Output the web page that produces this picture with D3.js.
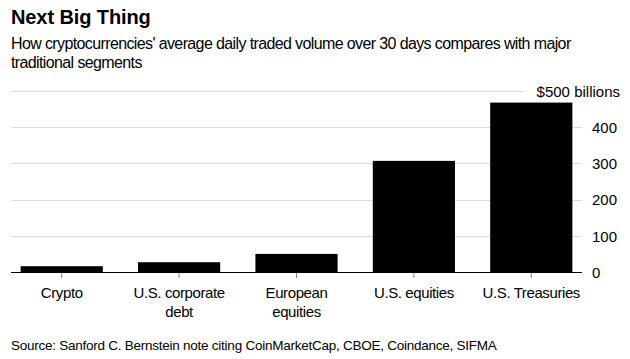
<!DOCTYPE html>
<html>
<head>
<meta charset="utf-8">
<script src="https://cdn.jsdelivr.net/npm/d3@7"></script>
<style>
  html, body { margin: 0; padding: 0; background: #fff; }
  svg text { font-family: "Liberation Sans", Arial, Helvetica, sans-serif; fill: #000; }
</style>
</head>
<body>
<svg id="chart" width="630" height="359"></svg>
<script>
// ---- data ----
const categories = ["Crypto", "U.S. corporate\ndebt", "European\nequities", "U.S. equities", "U.S. Treasuries"];
const volumes = [16, 27, 50, 307, 468];           // $ billions, avg daily traded volume
const yTicks = [0, 100, 200, 300, 400, 500];
const yTopLabel = "$500 billions";
const titleText = "Next Big Thing";
const subtitleLines = [
  "How cryptocurrencies' average daily traded volume over 30 days compares with major",
  "traditional segments"
];
const sourceText = "Source: Sanford C. Bernstein note citing CoinMarketCap, CBOE, Coindance, SIFMA";

// ---- layout ----
const svg = d3.select("#chart");
const plotL = 11, plotR = 582, plotT = 91, plotB = 272;

const x = d3.scaleBand()
  .domain(categories)
  .range([plotL, plotR])
  .paddingInner(0.3)
  .paddingOuter(0.082);

const y = d3.scaleLinear().domain([0, 500]).range([plotB, plotT]);

// title & subtitle
svg.append("text").attr("x", 11).attr("y", 24)
  .style("font-size", "20px").style("font-weight", "bold")
  .style("letter-spacing", "-0.1px")
  .text(titleText);

svg.selectAll("text.sub").data(subtitleLines).join("text")
  .attr("class", "sub")
  .attr("x", 11).attr("y", (d, i) => 49 + i * 19)
  .style("font-size", "16px")
  .style("letter-spacing", "-0.62px")
  .text(d => d);

// gridlines
const grid = svg.append("g");
yTicks.filter(t => t > 0).forEach(t => {
  grid.append("line")
    .attr("x1", plotL).attr("x2", t === 500 ? 523 : plotR)
    .attr("y1", Math.round(y(t)) + 0.5).attr("y2", Math.round(y(t)) + 0.5)
    .attr("stroke", "#dcdcdc").attr("stroke-width", 1);
});

// y tick labels
const yAxis = d3.axisRight(y).tickValues(yTicks)
  .tickSize(0).tickPadding(0)
  .tickFormat(d => d === 500 ? yTopLabel : d3.format("d")(d));
const yg = svg.append("g").attr("transform", `translate(592,0)`).call(yAxis);
yg.select(".domain").remove();
yg.selectAll("text")
  .style("font-size", "15px")
  .attr("dy", "0.35em")
  .attr("fill", "#000");
yg.selectAll(".tick").filter(d => d === 500).select("text")
  .attr("text-anchor", "end").attr("x", 28);

// bars
svg.append("g").selectAll("rect").data(volumes).join("rect")
  .attr("x", (d, i) => x(categories[i]))
  .attr("width", x.bandwidth())
  .attr("y", d => y(d))
  .attr("height", d => y(0) - y(d))
  .attr("fill", "#000");

// x axis
const xAxis = d3.axisBottom(x).tickSize(6).tickPadding(0).tickFormat("");
const xg = svg.append("g").attr("transform", `translate(0,${plotB})`).call(xAxis);
xg.select(".domain").remove();
xg.selectAll(".tick line").attr("stroke", "#888");
svg.append("line").attr("x1", plotL).attr("x2", plotR)
  .attr("y1", plotB + 0.5).attr("y2", plotB + 0.5)
  .attr("stroke", "#000").attr("stroke-width", 1);

// x labels
const xl = svg.append("g").selectAll("text").data(categories).join("text")
  .attr("x", d => x(d) + x.bandwidth() / 2)
  .attr("y", 298)
  .attr("text-anchor", "middle")
  .style("font-size", "15px")
  .style("letter-spacing", "-0.4px");
xl.each(function(d) {
  const t = d3.select(this);
  d.split("\n").forEach((line, i) => {
    t.append("tspan").attr("x", x(d) + x.bandwidth() / 2)
      .attr("dy", i === 0 ? 0 : 19).text(line);
  });
});

// source
svg.append("text").attr("x", 11).attr("y", 350)
  .style("font-size", "13.5px")
  .style("letter-spacing", "-0.25px")
  .text(sourceText);
</script>
</body>
</html>
